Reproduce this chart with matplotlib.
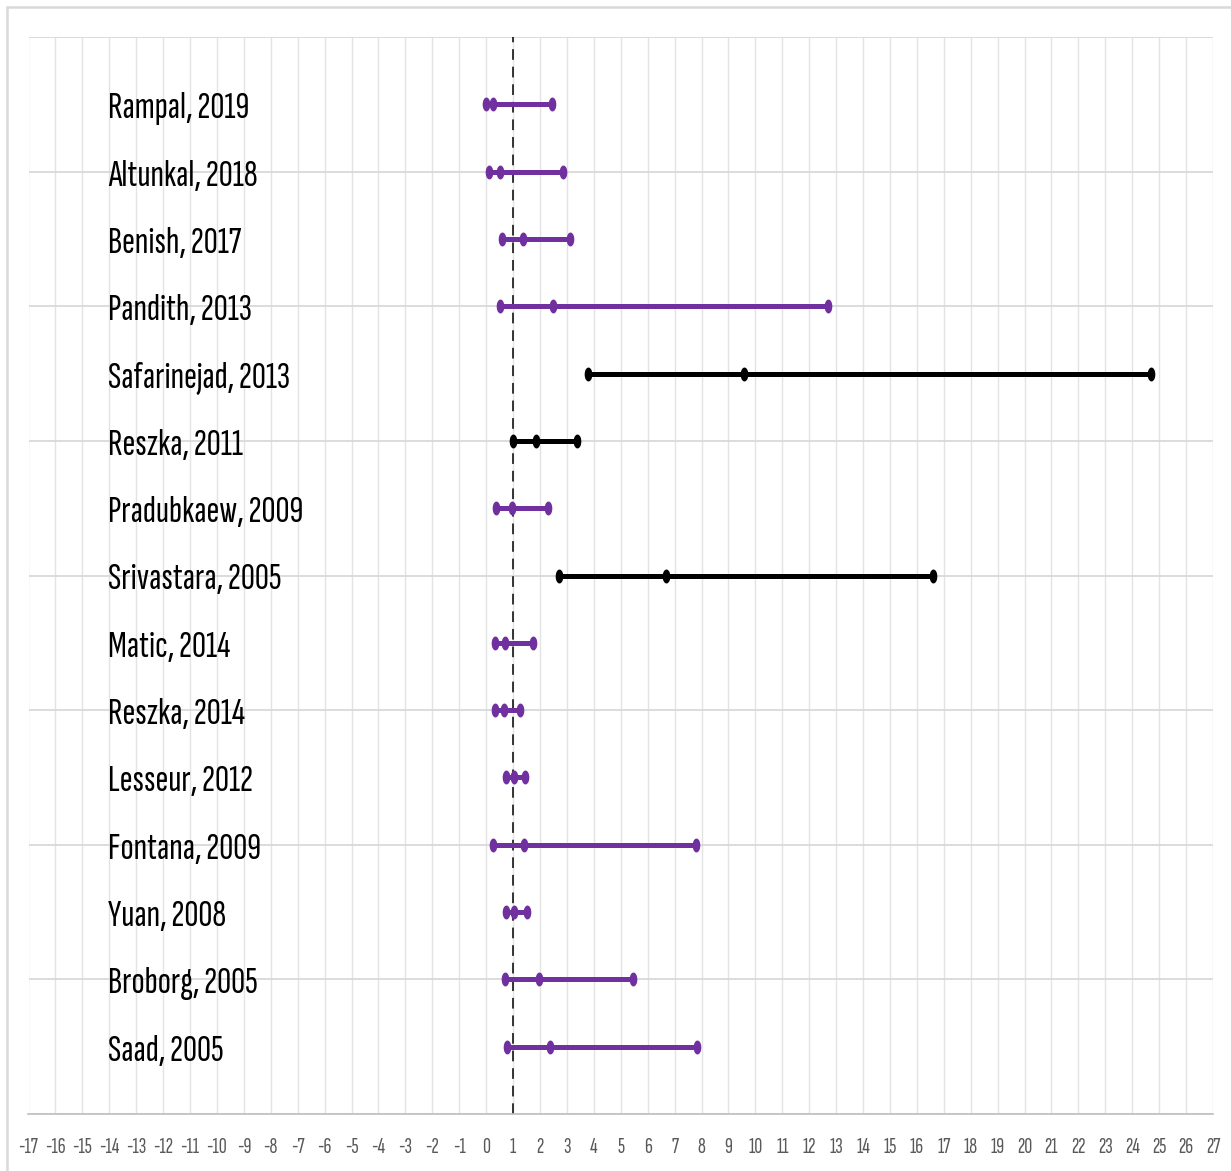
import matplotlib
matplotlib.use("Agg")
import matplotlib.pyplot as plt
from matplotlib.path import Path
from matplotlib.transforms import Affine2D, offset_copy
from matplotlib.patches import Rectangle

PURPLE = "#7030A0"
GRID_V = "#E3E3E3"
GRID_H = "#D9D9D9"
TICKGRAY = "#595959"
NARROW = ["Sofia Sans Extra Condensed", "Saira ExtraCondensed", "DejaVu Sans"]

studies = ["Rampal, 2019", "Altunkal, 2018", "Benish, 2017", "Pandith, 2013",
           "Safarinejad, 2013", "Reszka, 2011", "Pradubkaew, 2009", "Srivastara, 2005",
           "Matic, 2014", "Reszka, 2014", "Lesseur, 2012", "Fontana, 2009",
           "Yuan, 2008", "Broborg, 2005", "Saad, 2005"]
odds_ratio = [0.24, 0.52, 1.37, 2.48, 9.56, 1.87, 0.96, 6.68,
              0.71, 0.65, 1.02, 1.40, 1.05, 1.97, 2.39]
ci_lower = [0.01, 0.10, 0.59, 0.52, 3.80, 1.00, 0.38, 2.70,
            0.32, 0.34, 0.73, 0.25, 0.73, 0.71, 0.77]
ci_upper = [2.46, 2.87, 3.10, 12.70, 24.68, 3.36, 2.31, 16.59,
            1.74, 1.26, 1.45, 7.80, 1.53, 5.44, 7.84]
significant = [False, False, False, False, True, True, False, True,
               False, False, False, False, False, False, False]

x_ticks = list(range(-17, 28))
y_grid = list(range(0, 17, 2))

# tall oval marker used for the CI ends and the point estimate
oval = Path.unit_circle().transformed(Affine2D().scale(0.5, 1.0))

fig = plt.figure(figsize=(12.31, 11.71), dpi=100)
fig.patch.set_facecolor("white")

# light chart border (cropped at right/bottom like the source)
fig.add_artist(Rectangle((7 / 1231, -0.05), 1.2, 1 - 7 / 1171 + 0.05,
                         transform=fig.transFigure, fill=False,
                         edgecolor=GRID_H, linewidth=1.8))

ax = fig.add_axes([28.5 / 1231, 57 / 1171, (1213 - 28.5) / 1231, (1114 - 37) / 1171])
ax.set_xlim(-17, 27)
ax.set_ylim(0, 16)

for xv in x_ticks:
    ax.axvline(xv, color=GRID_V, linewidth=1.0, zorder=0)
for yv in y_grid:
    ax.axhline(yv, color=GRID_H, linewidth=1.3, zorder=0)

ax.axvline(1, color="black", linewidth=1.1, linestyle=(0, (7, 4.5)), zorder=1)

# labels sit with their baseline a little below the row
label_tr = offset_copy(ax.transData, fig=fig, y=-14, units="dots")

n = len(studies)
for i, (name, o, lo, hi, sig) in enumerate(zip(studies, odds_ratio, ci_lower, ci_upper, significant)):
    y = n - i
    c = "black" if sig else PURPLE
    ax.plot([lo, o, hi], [y, y, y], color=c, linewidth=3.6, marker=oval,
            markersize=9, markerfacecolor=c, markeredgecolor=c,
            solid_capstyle="butt", zorder=3)
    ax.text(-14.05, y, name, ha="left", va="baseline", fontsize=28,
            family=NARROW, color="black", transform=label_tr, zorder=4)

for s in ax.spines.values():
    s.set_visible(False)
ax.spines["bottom"].set_visible(True)
ax.spines["bottom"].set_color("#BFBFBF")
ax.spines["bottom"].set_linewidth(1.2)

ax.set_xticks(x_ticks)
ax.set_xticklabels([str(v) for v in x_ticks], family=NARROW, fontsize=16, color=TICKGRAY)
ax.set_yticks([])
ax.tick_params(axis="x", length=0, pad=17)

fig.savefig("out.png", dpi=100, facecolor="white")
